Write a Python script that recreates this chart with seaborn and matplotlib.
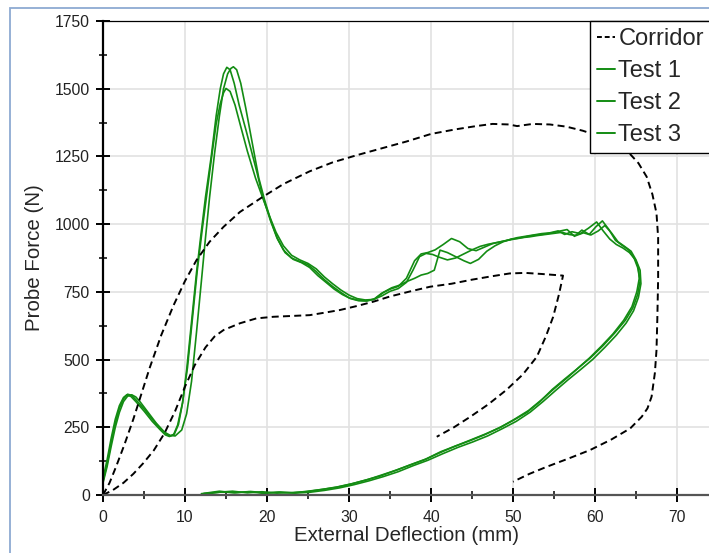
import matplotlib
matplotlib.use('Agg')
import matplotlib.pyplot as plt
from matplotlib.lines import Line2D
from matplotlib.patches import Rectangle
from matplotlib.ticker import MultipleLocator
import pandas as pd
import seaborn as sns

# corridor (outer and inner dashed boundaries)
outer_x = [0, 0.8, 1.6, 2.6, 3.7, 4.7, 5.7, 7.1, 8.6, 10.0, 11.4, 13.0, 14.7, 16.7, 19.5, 22.0, 25.2, 28.0,
           31.0, 34.0, 37.0, 40.0, 43.0, 45.5, 47.5, 49.5, 50.5, 52.4, 54.5, 56.5, 58.5, 60.5, 62.5, 64.0,
           65.3, 66.3, 67.0, 67.5, 67.7, 67.7, 67.6, 67.5, 67.3, 66.9, 66.4, 65.7, 64.3, 62.0, 59.4, 56.8,
           54.1, 52.0, 50.0]
outer_y = [0, 45, 105, 185, 280, 375, 470, 590, 700, 790, 867, 935, 990, 1045, 1101, 1148, 1195, 1228,
           1255, 1280, 1305, 1333, 1350, 1362, 1370, 1368, 1362, 1370, 1368, 1360, 1345, 1325, 1300, 1268,
           1225, 1175, 1110, 1040, 950, 800, 650, 535, 450, 363, 320, 289, 246, 205, 166, 135,
           104, 78, 49]
inner_x = [0, 1.2, 2.5, 3.7, 4.9, 6.2, 7.5, 8.8, 10.0, 11.2, 12.5, 13.6, 14.7, 16.7, 18.7, 20.8, 23.0,
           25.2, 27.0, 28.9, 31.0, 33.0, 35.0, 37.5, 39.9, 42.5, 45.0, 47.5, 49.6, 51.5, 53.5, 56.1, 55.6,
           54.9, 54.0, 52.9, 51.2, 49.2, 47.0, 44.8, 42.8, 40.7]
inner_y = [0, 18, 45, 78, 117, 165, 228, 310, 400, 480, 545, 585, 609, 634, 652, 658, 661, 664, 673,
           683, 698, 714, 733, 752, 769, 780, 795, 808, 818, 820, 816, 810, 740, 658, 585, 510, 445,
           388, 335, 289, 250, 215]

# test 1
t1_x = [0.0, 0.5, 1.0, 1.5, 2.0, 2.5, 3.0, 3.5, 4.0, 5.0, 6.0, 7.0, 7.7, 8.2, 8.7, 9.2, 9.7, 10.2,
        10.8, 11.4, 11.9, 12.5, 13.2, 13.8, 14.3, 14.7, 15.1, 15.5, 16.0, 16.6, 17.5, 18.7, 19.5, 20.4,
        21.2, 22.0, 23.0, 24.0, 25.0, 26.0, 27.0, 28.0, 29.0, 30.0, 31.0, 32.0, 33.0, 34.0, 35.0, 36.0,
        37.0, 38.0, 38.8, 39.6, 40.5, 41.5, 42.5, 43.5, 44.5, 45.5, 46.5, 47.5, 48.5, 49.5, 50.5, 51.5,
        52.5, 53.5, 54.5, 55.5, 56.3, 57.2, 58.2, 59.2, 60.2, 61.0, 61.8, 62.6, 63.4, 64.2, 64.9,
        65.3, 65.4, 65.1, 64.5, 63.5, 62.2, 60.8, 59.3, 57.8, 56.3, 54.8, 53.3, 51.7, 50.0, 48.3, 46.5,
        44.7, 42.9, 41.0, 39.2, 37.4, 35.6, 33.8, 32.0, 30.2, 28.4, 26.6, 24.8, 23.0, 21.2, 19.4, 17.6,
        15.8, 14.0, 12.0]
t1_y = [50, 115, 195, 265, 320, 355, 372, 368, 352, 318, 280, 245, 225, 218, 225, 260, 340, 461,
        640, 820, 950, 1100, 1250, 1400, 1500, 1555, 1579, 1570, 1520, 1440, 1340, 1200, 1100, 1015,
        950, 905, 875, 862, 850, 825, 795, 770, 748, 728, 720, 718, 722, 745, 760, 770,
        800, 865, 890, 895, 905, 925, 947, 935, 910, 902, 915, 928, 935, 942, 950, 955,
        960, 965, 968, 975, 962, 972, 965, 985, 1008, 975, 945, 925, 912, 895, 870,
        840, 800, 750, 695, 645, 595, 550, 505, 465, 428, 390, 345, 305, 275, 248, 222,
        200, 180, 155, 130, 110, 90, 70, 55, 40, 28, 20, 12, 9, 7, 12, 8,
        14, 10, 5]

# test 2
t2_x = [0.0, 0.5, 1.0, 1.5, 2.0, 2.5, 3.0, 3.5, 4.0, 4.5, 5.5, 6.5, 7.5, 8.2, 8.8, 9.6, 10.2, 10.8,
        11.4, 12.0, 12.5, 13.0, 13.6, 14.2, 14.7, 15.2, 15.6, 15.9, 16.3, 16.8, 17.4, 18.2, 19.0, 19.7,
        20.5, 21.3, 22.2, 23.2, 24.2, 25.2, 26.2, 27.2, 28.2, 29.2, 30.2, 31.2, 32.2, 33.2, 34.2, 35.2,
        36.2, 37.2, 38.0, 38.8, 39.6, 40.4, 41.1, 42.0, 43.0, 44.0, 44.8, 45.8, 46.8, 47.8, 48.8, 49.8,
        50.8, 51.8, 52.8, 53.8, 54.8, 55.8, 56.6, 57.5, 58.4, 59.3, 60.1, 60.9, 61.7, 62.5, 63.3, 64.1,
        64.8, 65.2, 65.5, 65.2, 64.6, 63.7, 62.4, 61.0, 59.5, 58.0, 56.5, 55.0, 53.5, 51.9, 50.2, 48.5,
        46.7, 44.9, 43.1, 41.2, 39.4, 37.6, 35.8, 34.0, 32.2, 30.4, 28.6, 26.8, 25.0, 23.2, 21.4, 19.6,
        17.8, 16.0, 14.2, 12.3]
t2_y = [45, 105, 180, 250, 305, 345, 365, 370, 362, 345, 305, 265, 232, 220, 218, 240, 300, 420,
        600, 790, 950, 1100, 1260, 1400, 1500, 1555, 1575, 1581, 1570, 1520, 1430, 1300, 1170, 1090,
        1010, 945, 895, 870, 858, 840, 810, 785, 760, 740, 725, 717, 716, 725, 748, 765,
        775, 790, 800, 812, 818, 830, 904, 895, 880, 865, 855, 870, 900, 920, 935, 945,
        948, 955, 960, 963, 968, 975, 980, 955, 978, 962, 990, 1012, 980, 940, 922, 905,
        872, 840, 790, 740, 690, 645, 598, 552, 508, 470, 430, 392, 352, 312, 280, 250,
        226, 204, 182, 160, 133, 113, 92, 74, 56, 42, 30, 21, 14, 8, 10, 6,
        12, 8, 14, 6]

# test 3
t3_x = [0.0, 0.5, 1.0, 1.5, 2.0, 2.5, 2.9, 3.4, 4.0, 5.0, 6.0, 7.0, 7.6, 8.1, 8.6, 9.1, 9.7, 10.3,
        10.9, 11.5, 12.1, 12.7, 13.3, 13.8, 14.3, 14.7, 15.0, 15.5, 16.1, 16.8, 17.6, 18.6, 19.5, 20.3,
        21.1, 22.0, 23.0, 24.0, 25.0, 26.0, 27.0, 28.0, 29.0, 30.0, 31.0, 32.0, 33.0, 34.0, 35.0, 36.0,
        37.0, 37.8, 38.6, 39.4, 40.2, 41.0, 42.0, 43.0, 44.0, 45.0, 46.0, 47.0, 48.0, 49.0, 50.0, 51.0,
        52.0, 53.0, 54.0, 55.0, 56.0, 56.8, 57.7, 58.6, 59.5, 60.4, 61.2, 62.0, 62.8, 63.6, 64.4, 65.0,
        65.5, 65.6, 65.3, 64.7, 63.8, 62.6, 61.2, 59.7, 58.2, 56.7, 55.2, 53.7, 52.1, 50.4, 48.7, 46.9,
        45.1, 43.3, 41.4, 39.6, 37.8, 36.0, 34.2, 32.4, 30.6, 28.8, 27.0, 25.2, 23.4, 21.6, 19.8, 18.0,
        16.2, 14.4, 12.6]
t3_y = [60, 130, 210, 280, 330, 360, 370, 364, 345, 310, 272, 240, 222, 216, 222, 258, 340, 470,
        650, 830, 980, 1120, 1260, 1370, 1445, 1485, 1501, 1490, 1440, 1360, 1270, 1170, 1095, 1030,
        970, 920, 885, 868, 855, 835, 805, 780, 757, 738, 725, 720, 722, 735, 752, 762,
        785, 830, 880, 892, 888, 878, 868, 875, 890, 905, 918, 926, 932, 938, 944, 950,
        953, 958, 962, 966, 970, 962, 958, 968, 960, 975, 995, 968, 935, 918, 900, 868,
        830, 780, 730, 680, 635, 590, 545, 500, 462, 425, 386, 346, 306, 272, 245, 218,
        196, 176, 152, 128, 108, 86, 68, 52, 38, 26, 17, 10, 7, 11, 8, 13,
        9, 11, 4]

test_names = ['Test 1', 'Test 2', 'Test 3']
green = '#138c13'

sns.set_style('white')
plt.rcParams['font.family'] = ['Liberation Sans', 'DejaVu Sans']

fig = plt.figure(figsize=(7.09, 5.53), dpi=100)
ax = fig.add_axes([103 / 709, 58 / 553, 615 / 709, 474 / 553])

tests = pd.concat([
    pd.DataFrame({'x': tx, 'y': ty, 'test': name})
    for tx, ty, name in zip([t1_x, t2_x, t3_x], [t1_y, t2_y, t3_y], test_names)
], ignore_index=True)

sns.lineplot(data=tests, x='x', y='y', hue='test', sort=False, estimator=None,
             palette={n: green for n in test_names}, lw=1.2, legend=False, ax=ax)
dash = (0, (3.6, 2.2))
sns.lineplot(x=outer_x, y=outer_y, sort=False, estimator=None, color='black',
             lw=1.4, linestyle=dash, ax=ax)
sns.lineplot(x=inner_x, y=inner_y, sort=False, estimator=None, color='black',
             lw=1.4, linestyle=dash, ax=ax)

ax.set_xlim(0, 75)
ax.set_ylim(0, 1750)
ax.xaxis.set_major_locator(MultipleLocator(10))
ax.xaxis.set_minor_locator(MultipleLocator(5))
ax.yaxis.set_major_locator(MultipleLocator(250))
ax.yaxis.set_minor_locator(MultipleLocator(125))
ax.grid(True, which='major', color='#e2e2e2', lw=1.2)
ax.set_axisbelow(True)

ax.tick_params(which='both', bottom=True, left=True, top=False, right=False)
ax.tick_params(which='major', direction='inout', length=10, width=1.4, labelsize=11.3,
               labelcolor='#222222', color='black')
ax.tick_params(which='minor', direction='inout', length=5.5, width=1.1, color='black')
ax.tick_params(axis='x', which='major', pad=6)
ax.tick_params(axis='y', which='major', pad=4.5)

for side in ['left', 'top', 'right']:
    ax.spines[side].set_color('black')
ax.spines['left'].set_linewidth(1.6)
ax.spines['top'].set_linewidth(0.9)
ax.spines['bottom'].set_color('#555555')
ax.spines['bottom'].set_linewidth(1.6)

ax.set_xlabel('External Deflection (mm)', fontsize=14.8)
ax.set_ylabel('Probe Force (N)', fontsize=14.8)
ax.xaxis.set_label_coords(0.494, -0.066)
ax.yaxis.set_label_coords(-0.096, 0.5)

handles = [Line2D([], [], color='black', lw=1.4, linestyle=(0, (2.5, 1.5)))]
handles += [Line2D([], [], color=green, lw=1.4) for _ in test_names]
leg = ax.legend(handles, ['Corridor'] + test_names, loc='upper left',
                bbox_to_anchor=(590 / 709, 1 - 21 / 553), bbox_transform=fig.transFigure,
                fontsize=17, handlelength=0.75, handletextpad=0.15, borderpad=0.3,
                labelspacing=0.42, borderaxespad=0, frameon=True, fancybox=False,
                framealpha=1, edgecolor='black')
leg.get_frame().set_linewidth(1.0)

fig.add_artist(Rectangle((10 / 709, -0.1), 1.0, 1.1 - 8 / 553, transform=fig.transFigure,
                         fill=False, edgecolor='#8eaad2', lw=1.3))

fig.savefig('out.png', dpi=100)
